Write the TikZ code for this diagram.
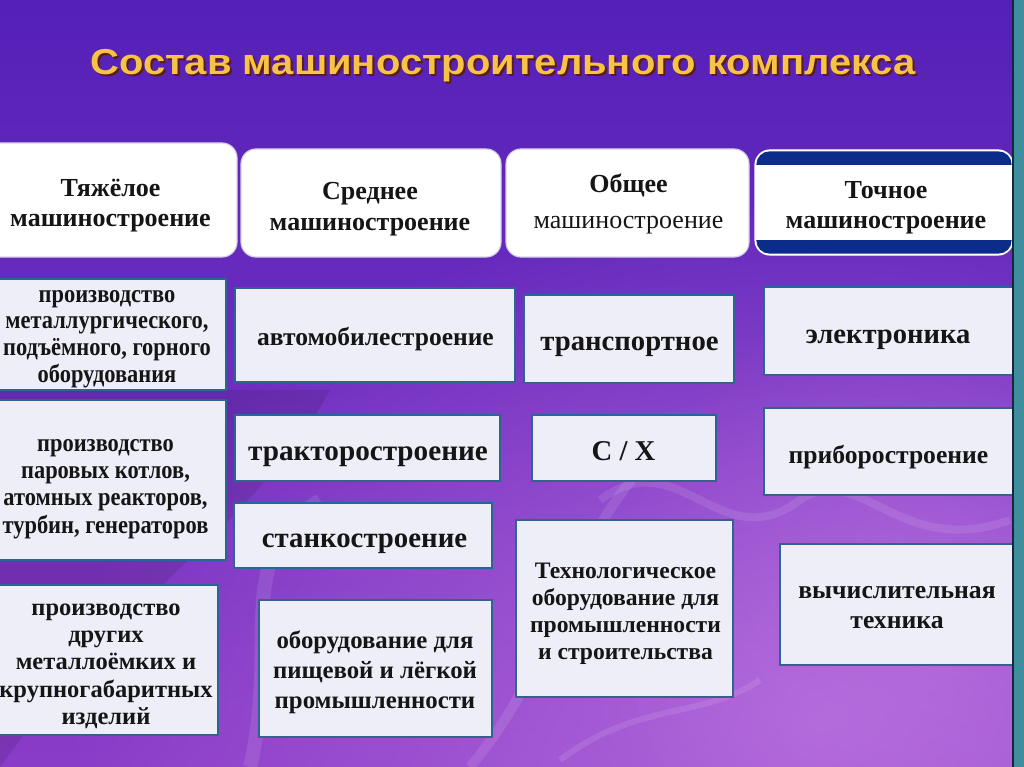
\documentclass[tikz,border=0pt]{standalone}
\usepackage{fontspec}
\setmainfont{Liberation Serif}
\newfontfamily\boxfont{Liberation Serif}
\newfontfamily\narrowfont[FakeStretch=0.88]{Liberation Serif}
\newfontfamily\titlefont[FakeStretch=1.11]{Liberation Sans}
\usetikzlibrary{fadings}
\definecolor{bgtop}{HTML}{5420B8}
\definecolor{bgbot}{HTML}{8A3CC8}
\definecolor{glowc}{HTML}{C27AE2}
\definecolor{cellfill}{HTML}{EEEEF8}
\definecolor{cellline}{HTML}{2C6690}
\definecolor{textc}{HTML}{151515}
\definecolor{navyband}{HTML}{0C2C8A}
\definecolor{rimc}{HTML}{D8D0E8}
\definecolor{titlec}{HTML}{F6C346}
\definecolor{titleshadow}{HTML}{5A1E0C}
\definecolor{tealstrip}{HTML}{3E8E9E}
\tikzfading[name=glowfade, inner color=transparent!30, outer color=transparent!100]
\newcommand\hb[1]{\boxfont\bfseries\fontsize{#1pt}{#1pt}\selectfont}
\newcommand\hr[1]{\boxfont\mdseries\fontsize{#1pt}{#1pt}\selectfont}
\newcommand\nb[1]{\narrowfont\bfseries\fontsize{#1pt}{#1pt}\selectfont}
% name, x, first baseline, pitch, font, list of lines
\newcommand\txtlines[6]{%
  \foreach \t [count=\i] in {#6} {\node[lbl, font=#5] (#1-\i) at (#2, {#3+(\i-1)*#4}) {\t};}%
}
\begin{document}
\begin{tikzpicture}[x=1pt,y=-1pt,
  cell/.style={draw=cellline, line width=2.5pt, fill=cellfill, inner sep=0pt},
  hdr/.style={draw=rimc, line width=1.2pt, fill=white, rounded corners=15pt, inner sep=0pt},
  lbl/.style={anchor=base, inner sep=0pt, text=textc},
  swoosh/.style={draw=white, line width=#1, opacity=0.10}
]
\useasboundingbox (0,0) rectangle (1024,767);
\clip (0,0) rectangle (1024,767);
% background
\shade[top color=bgtop, bottom color=bgbot] (0,0) rectangle (1024,767);
\fill[glowc, path fading=glowfade] (820,720) ellipse (760 and 520);
\fill[glowc, path fading=glowfade, opacity=0.6] (930,620) circle (330);
\fill[black, opacity=0.10] (0,767) .. controls (120,600) and (260,520) .. (330,390) -- (0,390) -- cycle;
\draw[swoosh=14pt] (250,767) .. controls (280,640) and (230,560) .. (320,500);
\draw[swoosh=10pt] (470,767) .. controls (560,660) and (560,560) .. (640,470);
\draw[swoosh=8pt] (600,500) .. controls (680,440) and (720,560) .. (800,500) .. controls (860,460) and (900,560) .. (1010,520);
\draw[swoosh=6pt] (560,760) .. controls (640,700) and (700,720) .. (760,680);
% title
\node[anchor=base, text=titleshadow, font=\titlefont\bfseries\fontsize{36pt}{36pt}\selectfont] (tshadow) at (505,76.5) {Состав машиностроительного комплекса};
\node[anchor=base, text=titlec, font=\titlefont\bfseries\fontsize{36pt}{36pt}\selectfont] (title) at (503,74.5) {Состав машиностроительного комплекса};
% header boxes
\node[hdr, minimum width=257pt, minimum height=114pt] (h1) at (108.5,200) {};
\node[hdr, minimum width=260pt, minimum height=108pt] (h2) at (371,203) {};
\node[hdr, minimum width=243pt, minimum height=108pt] (h3) at (627.5,203) {};
\node[hdr, draw=white, minimum width=258pt, minimum height=105pt] (h4) at (884,202.5) {};
\begin{scope}
  \clip[rounded corners=13pt] ([shift={(2,2)}]h4.north west) rectangle ([shift={(-2,-2)}]h4.south east);
  \fill[navyband] (h4.north west) rectangle ([shift={(0,16)}]h4.north east);
  \fill[navyband] ([shift={(0,-16)}]h4.south west) rectangle (h4.south east);
\end{scope}
\txtlines{h1t}{110.5}{196.5}{29.5}{\hb{26}}{Тяжёлое,машиностроение}
\txtlines{h2t}{370}{199.5}{30.5}{\hb{26}}{Среднее,машиностроение}
\node[lbl, font=\hb{26}] (h3t-1) at (628.5,193) {Общее};
\node[lbl, font=\hr{26}] (h3t-2) at (628.5,229) {машиностроение};
\txtlines{h4t}{886}{198.5}{30.5}{\hb{26}}{Точное,машиностроение}
% cell boxes
\node[cell, minimum width=236pt, minimum height=111pt] (b1) at (108,334.5) {};
\node[cell, minimum width=236pt, minimum height=160pt] (b2) at (108,480) {};
\node[cell, minimum width=228pt, minimum height=150pt] (b3) at (104,660) {};
\node[cell, minimum width=280pt, minimum height=94pt] (c2a) at (375,335) {};
\node[cell, minimum width=265pt, minimum height=66pt] (c2b) at (367.5,448) {};
\node[cell, minimum width=258pt, minimum height=65pt] (c2c) at (363,535.5) {};
\node[cell, minimum width=233pt, minimum height=137pt] (c2d) at (375.5,668.5) {};
\node[cell, minimum width=210pt, minimum height=88pt] (c3a) at (629,339) {};
\node[cell, minimum width=184pt, minimum height=66pt] (c3b) at (624,448) {};
\node[cell, minimum width=217pt, minimum height=177pt] (c3c) at (624.5,608.5) {};
\node[cell, minimum width=249pt, minimum height=88pt] (c4a) at (888.5,331) {};
\node[cell, minimum width=249pt, minimum height=87pt] (c4b) at (888.5,451.5) {};
\node[cell, minimum width=233pt, minimum height=121pt] (c4c) at (896.5,604.5) {};
% cell texts
\txtlines{b1t}{107}{302}{26.7}{\nb{25.5}}{производство,{металлургического,},{подъёмного, горного},оборудования}
\txtlines{b2t}{105.5}{451.5}{27.2}{\nb{25.5}}{производство,{паровых котлов,},{атомных реакторов,},{турбин, генераторов}}
\txtlines{b3t}{106}{615.5}{27.2}{\hb{24.5}}{производство,других,{металлоёмких и},крупногабаритных,изделий}
\node[lbl, font=\hb{25.5}] (c2at) at (375.5,345.5) {автомобилестроение};
\node[lbl, font=\hb{29.2}] (c2bt) at (368,460) {тракторостроение};
\node[lbl, font=\hb{28.8}] (c2ct) at (364.5,547) {станкостроение};
\txtlines{c2dt}{375}{648.5}{30}{\hb{24.8}}{{оборудование для},{пищевой и лёгкой},промышленности}
\node[lbl, font=\hb{28.7}] (c3at) at (629.5,350) {транспортное};
\node[lbl, font=\hb{28.7}] (c3bt) at (623.5,460) {С / Х};
\txtlines{c3ct}{625.5}{578}{27.2}{\hb{23.6}}{Технологическое,{оборудование для},промышленности,{и строительства}}
\node[lbl, font=\hb{28.6}] (c4at) at (888,343.3) {электроника};
\node[lbl, font=\hb{25.6}] (c4bt) at (888.5,463.3) {приборостроение};
\txtlines{c4ct}{897}{598.3}{30.5}{\hb{25.7}}{вычислительная,техника}
% right strip
\fill[black!60!cellline] (1011.5,0) rectangle (1014,767);
\fill[tealstrip] (1014,0) rectangle (1024,767);
\end{tikzpicture}
\end{document}
